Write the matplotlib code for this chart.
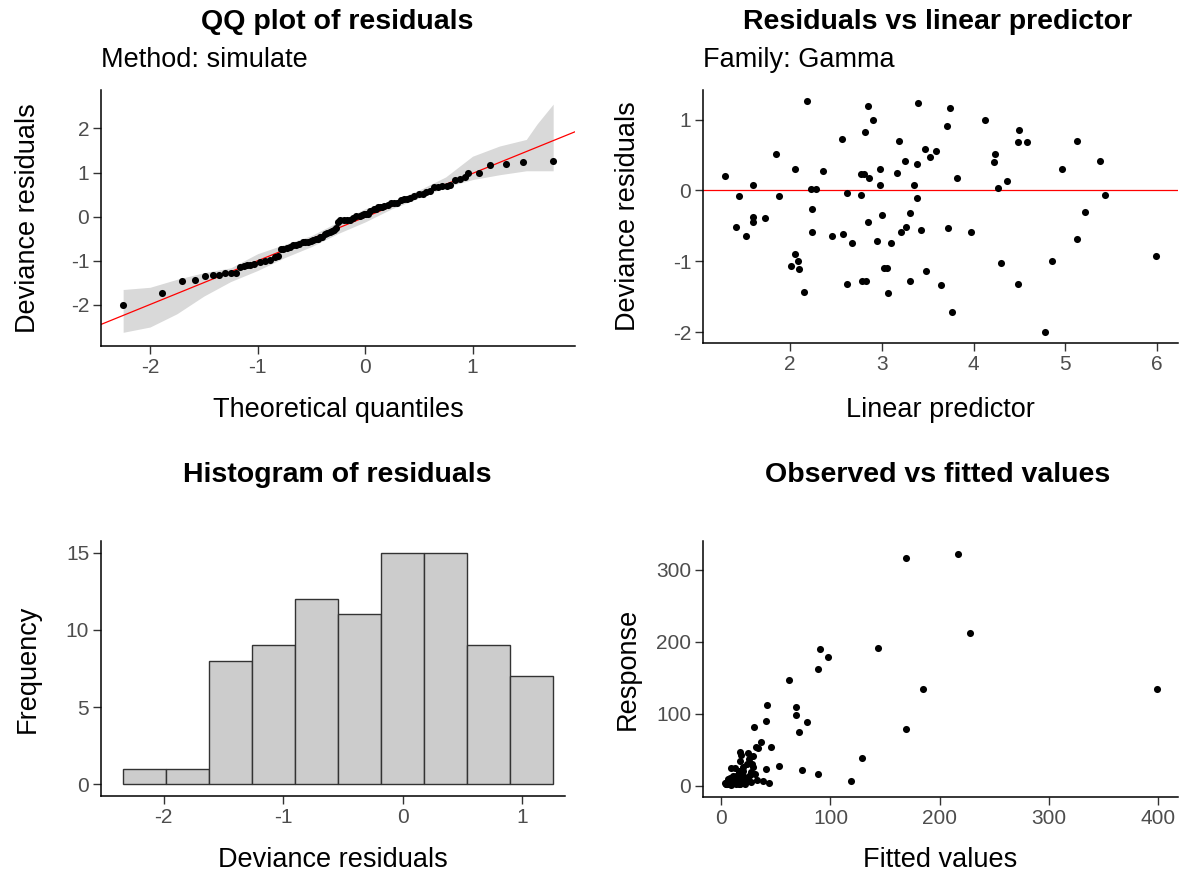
import numpy as np
import matplotlib
matplotlib.use("Agg")
import matplotlib.pyplot as plt

# ---------------- data ----------------
lin_pred = [1.29, 1.44, 1.41, 1.52, 1.59, 1.59, 1.59, 1.72, 1.85, 1.88,
            2.05, 2.05, 2.01, 2.08, 2.10, 2.15, 2.18, 2.23, 2.28, 2.24,
            2.24, 2.36, 2.46, 2.56, 2.58, 2.62, 2.62, 2.67, 2.77, 2.80,
            2.77, 2.82, 2.85, 2.86, 2.85, 2.90, 2.78, 2.83, 2.95, 2.98,
            2.98, 3.00, 3.02, 3.06, 3.07, 3.10, 3.16, 3.19, 3.21, 3.25,
            3.26, 3.31, 3.31, 3.35, 3.38, 3.38, 3.39, 3.43, 3.47, 3.48,
            3.52, 3.59, 3.64, 3.71, 3.72, 3.74, 3.77, 3.82, 3.97, 4.13,
            4.22, 4.23, 4.27, 4.30, 4.36, 4.48, 4.48, 4.50, 4.58, 4.78,
            4.86, 4.97, 5.13, 5.13, 5.22, 5.38, 5.43, 5.99]
dev_resid = [0.21, -0.08, -0.51, -0.64, 0.07, -0.38, -0.45, -0.39, 0.51, -0.08,
             0.30, -0.90, -1.07, -0.99, -1.11, -1.43, 1.26, 0.02, 0.02, -0.26,
             -0.58, 0.27, -0.64, 0.72, -0.62, -0.04, -1.32, -0.74, 0.23, 0.23,
             -0.07, 0.83, 1.19, 0.17, -0.45, 1.00, -1.28, -1.28, -0.71, 0.30,
             0.07, -0.34, -1.09, -1.09, -1.45, -0.74, 0.25, 0.70, -0.58, 0.41,
             -0.51, -0.32, -1.28, 0.07, 0.38, -0.11, 1.23, -0.56, 0.58, -1.13,
             0.47, 0.56, -1.34, 0.91, -0.53, 1.17, -1.72, 0.17, -0.58, 1.00,
             0.40, 0.51, 0.04, -1.02, 0.13, 0.68, -1.32, 0.85, 0.68, -2.00,
             -1.00, 0.30, 0.70, -0.68, -0.30, 0.42, -0.07, -0.92]

fitted_values = [3.6, 4.2, 4.1, 4.6, 4.9, 4.9, 4.9, 5.6, 6.4, 6.6,
                 7.8, 7.8, 7.5, 8.0, 8.2, 8.6, 8.8, 9.3, 9.8, 9.4,
                 9.4, 10.6, 11.7, 12.9, 13.2, 13.7, 13.7, 14.4, 16.0, 16.4,
                 16.0, 16.8, 17.3, 17.5, 17.3, 18.2, 16.1, 16.9, 19.1, 19.7,
                 19.7, 20.1, 20.5, 21.3, 21.5, 22.2, 23.6, 24.3, 24.8, 25.8,
                 26.0, 27.4, 27.4, 28.5, 29.4, 29.4, 29.7, 30.9, 32.1, 32.5,
                 33.8, 36.2, 38.1, 40.9, 41.3, 42.1, 43.4, 45.6, 53.0, 62.2,
                 68.0, 68.7, 71.5, 73.7, 78.3, 88.2, 88.2, 90.0, 97.5, 119.1,
                 129.0, 144.0, 169.0, 169.0, 184.9, 217.0, 228.1, 399.4]
response = [4.4, 3.9, 2.3, 2.2, 5.3, 3.3, 3.0, 3.7, 10.2, 6.0,
            10.3, 2.7, 2.0, 2.4, 2.1, 1.3, 25.1, 9.5, 10.0, 7.2,
            4.9, 13.7, 5.7, 24.6, 6.6, 13.2, 2.5, 6.2, 19.9, 20.5,
            14.9, 34.8, 46.7, 20.6, 10.6, 42.8, 3.2, 3.3, 8.5, 26.2,
            21.1, 14.0, 5.4, 5.6, 3.2, 9.5, 30.0, 45.5, 13.0, 37.9,
            14.9, 19.5, 5.4, 30.5, 42.0, 26.3, 82.4, 16.7, 54.5, 8.1,
            52.2, 60.5, 6.8, 90.1, 23.1, 112.2, 4.0, 53.8, 27.9, 146.6,
            99.0, 110.0, 74.4, 21.6, 88.9, 162.5, 16.3, 189.6, 179.6, 6.2,
            38.9, 191.7, 316.4, 78.5, 134.9, 321.4, 212.5, 134.9]

qq_theoretical = [-2.25, -1.89, -1.70, -1.58, -1.49, -1.41, -1.36, -1.30, -1.25, -1.20,
                  -1.16, -1.13, -1.10, -1.07, -1.03, -0.98, -0.93, -0.88, -0.84,
                  -0.81, -0.78, -0.76, -0.73, -0.70, -0.67, -0.64, -0.61, -0.58, -0.56, -0.53, -0.50,
                  -0.48, -0.46, -0.44, -0.42, -0.40, -0.37, -0.35, -0.33, -0.31, -0.29, -0.27,
                  -0.25, -0.23, -0.20, -0.17, -0.14, -0.11, -0.08, -0.05, -0.03, -0.01, 0.01, 0.03, 0.05, 0.08, 0.10,
                  0.12, 0.14, 0.16, 0.18, 0.21, 0.24, 0.27, 0.30, 0.33, 0.36, 0.39, 0.42, 0.46, 0.50, 0.54,
                  0.57, 0.60, 0.64, 0.68, 0.72, 0.76, 0.79, 0.84, 0.88,
                  0.93, 0.96, 1.06, 1.16, 1.31, 1.47, 1.75]

band_x = [-2.25, -2.0, -1.75, -1.5, -1.25, -1.0, -0.75, -0.5, -0.25, 0.0,
          0.25, 0.5, 0.75, 1.0, 1.25, 1.5, 1.6, 1.75]
band_lower = [-2.62, -2.50, -2.20, -1.80, -1.47, -1.22, -0.93, -0.68, -0.38, -0.12,
              0.18, 0.42, 0.67, 0.84, 0.95, 1.04, 1.04, 1.04]
band_upper = [-1.65, -1.60, -1.42, -1.27, -1.16, -0.84, -0.63, -0.43, -0.12, 0.18,
              0.35, 0.60, 0.90, 1.37, 1.60, 1.75, 2.10, 2.55]
ref_intercept = -0.01
ref_slope = 0.99

hist_edges = [-2.343, -1.983, -1.622, -1.262, -0.902, -0.541, -0.181, 0.179, 0.540, 0.900, 1.260]
hist_counts = [1, 1, 8, 9, 12, 11, 15, 15, 9, 7]

# ---------------- figure ----------------
W, H = 1185, 888
plt.rcParams['font.family'] = ['Liberation Sans', 'DejaVu Sans']
plt.rcParams['axes.unicode_minus'] = False
fig = plt.figure(figsize=(W / 100, H / 100), dpi=100)

TITLE_FS = 20.5
SUB_FS = 19.5
LAB_FS = 19.5
TICK_FS = 15.0


def ax_px(l, t, r, b):
    return fig.add_axes([l / W, 1 - b / H, (r - l) / W, (b - t) / H])


def style(ax, l, t, r, b, xlab, ylab, xlab_y, ylab_x):
    for s in ['top', 'right']:
        ax.spines[s].set_visible(False)
    for s in ['left', 'bottom']:
        ax.spines[s].set_linewidth(1.1)
        ax.spines[s].set_color('black')
    ax.tick_params(axis='both', labelsize=TICK_FS, labelcolor='#4D4D4D', color='#333333',
                   length=5.5, width=1.0, direction='out', pad=3)
    ax.set_xlabel(xlab, fontsize=LAB_FS, va='center')
    ax.set_ylabel(ylab, fontsize=LAB_FS, va='center', ha='center')
    ax.xaxis.set_label_coords(0.5, (b - xlab_y) / (b - t))
    ax.yaxis.set_label_coords((ylab_x - l) / (r - l), 0.5)


def titles(cx, x_left, y_title, y_sub, title, sub=None):
    fig.text(cx / W, 1 - y_title / H, title, ha='center', va='center',
             fontsize=TITLE_FS, fontweight='bold')
    if sub:
        fig.text(x_left / W, 1 - y_sub / H, sub, ha='left', va='center', fontsize=SUB_FS)


# Panel 1: QQ plot
p1 = (101, 90, 575, 346)
ax1 = ax_px(*p1)
ax1.fill_between(band_x, band_lower, band_upper, color='#D9D9D9', lw=0)
ax1.axline((0, ref_intercept), slope=ref_slope, color='red', lw=0.9)
ax1.scatter(qq_theoretical, np.sort(dev_resid), s=26, color='black', zorder=3, lw=0)
ax1.set_xlim(-2.456, 1.953)
ax1.set_ylim(-2.93, 2.87)
ax1.set_xticks([-2, -1, 0, 1]); ax1.set_yticks([-2, -1, 0, 1, 2])
style(ax1, *p1, 'Theoretical quantiles', 'Deviance residuals', 410, 28)
titles(337, 101, 22, 60, 'QQ plot of residuals', 'Method: simulate')

# Panel 2: residuals vs linear predictor
p2 = (703, 90, 1178, 343)
ax2 = ax_px(*p2)
ax2.axhline(0, color='red', lw=0.9)
ax2.scatter(lin_pred, dev_resid, s=26, color='black', zorder=3, lw=0)
ax2.set_xlim(1.048, 6.231)
ax2.set_ylim(-2.152, 1.417)
ax2.set_xticks([2, 3, 4, 5, 6]); ax2.set_yticks([-2, -1, 0, 1])
style(ax2, *p2, 'Linear predictor', 'Deviance residuals', 410, 628)
titles(938, 703, 22, 60, 'Residuals vs linear predictor', 'Family: Gamma')

# Panel 3: histogram
p3 = (101, 541, 565, 796)
ax3 = ax_px(*p3)
ax3.bar(hist_edges[:-1], hist_counts, width=np.diff(hist_edges), align='edge',
        facecolor='#CCCCCC', edgecolor='#333333', lw=1.0)
ax3.set_xlim(-2.525, 1.358)
ax3.set_ylim(-0.76, 15.75)
ax3.set_xticks([-2, -1, 0, 1]); ax3.set_yticks([0, 5, 10, 15])
style(ax3, *p3, 'Deviance residuals', 'Frequency', 860, 28)
titles(337, 101, 475, None, 'Histogram of residuals')

# Panel 4: observed vs fitted
p4 = (703, 541, 1178, 797)
ax4 = ax_px(*p4)
ax4.scatter(fitted_values, response, s=26, color='black', zorder=3, lw=0)
ax4.set_xlim(-16.8, 418.5)
ax4.set_ylim(-15.4, 340)
ax4.set_xticks([0, 100, 200, 300, 400]); ax4.set_yticks([0, 100, 200, 300])
style(ax4, *p4, 'Fitted values', 'Response', 860, 628)
titles(938, 703, 475, None, 'Observed vs fitted values')

fig.savefig('out.png', dpi=100)
